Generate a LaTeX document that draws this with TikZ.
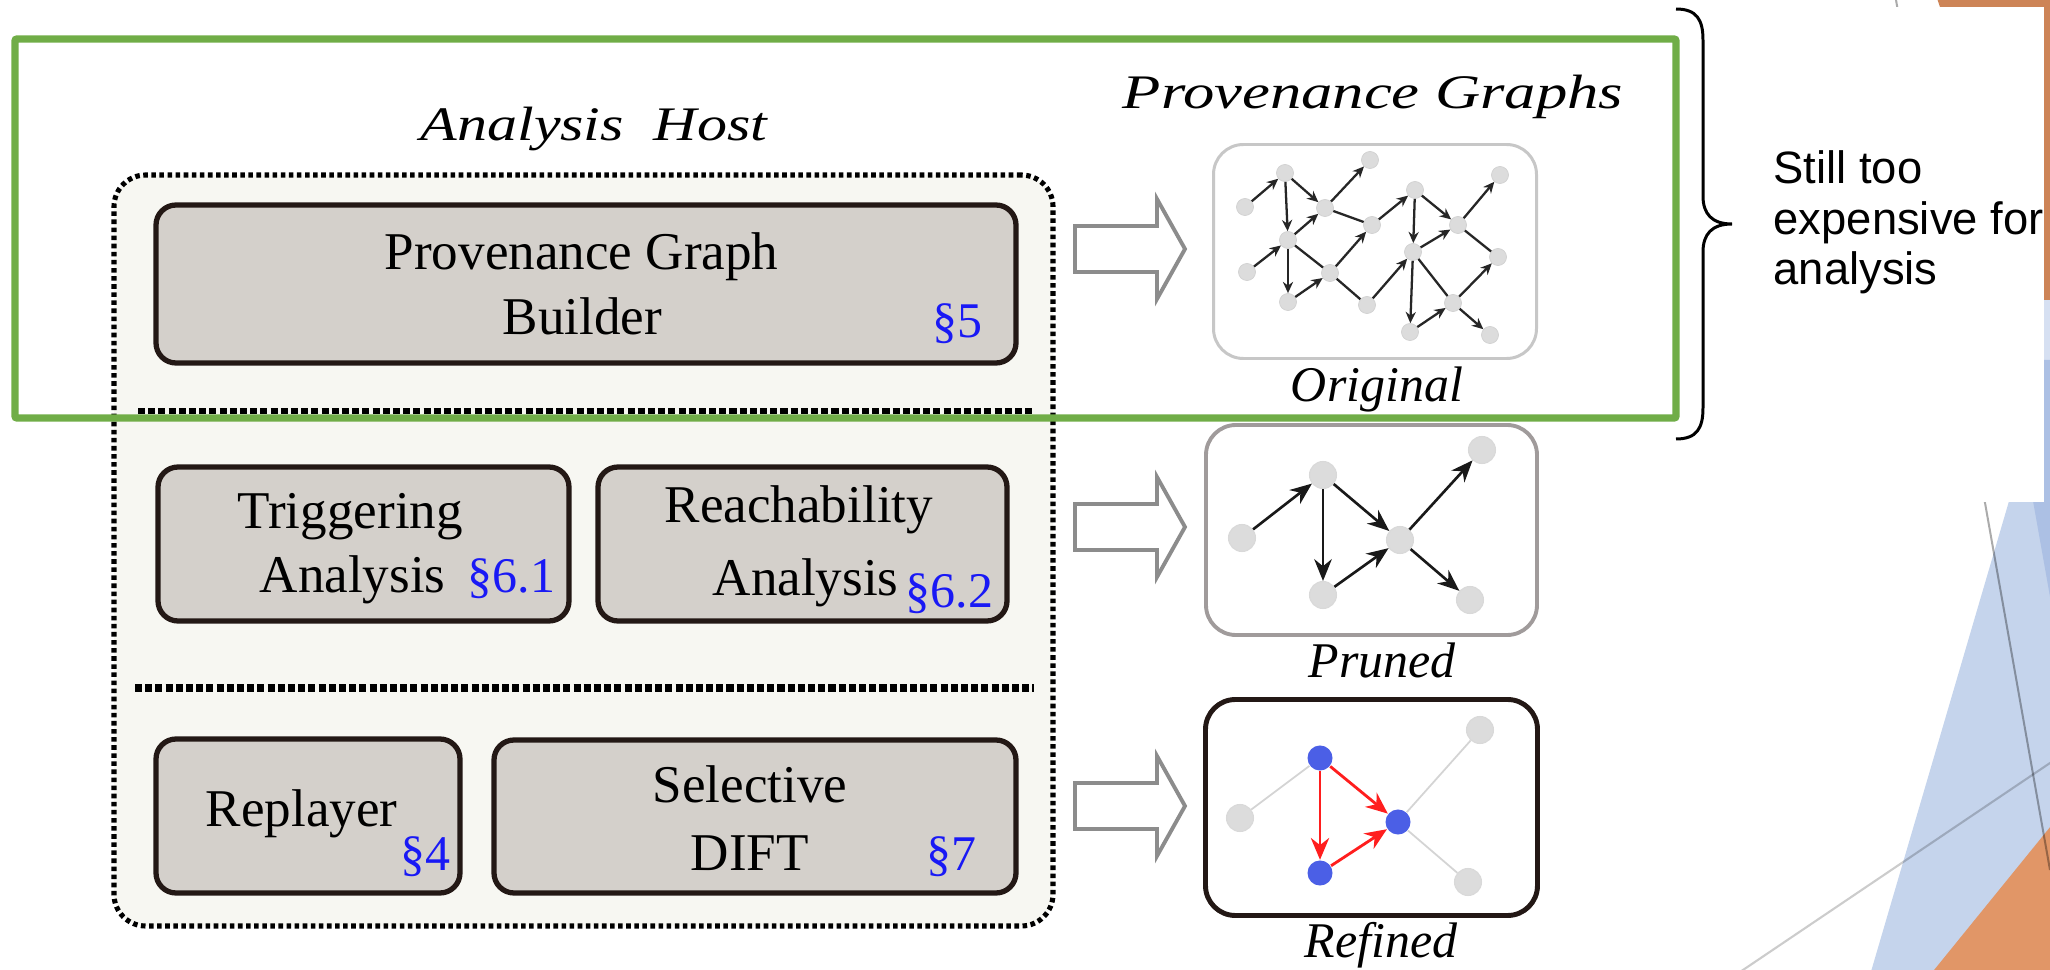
\documentclass[tikz,border=0pt]{standalone}
\usepackage{fontspec}
\setmainfont{Liberation Serif}
\newfontfamily\notefont{Liberation Sans}
\usetikzlibrary{arrows.meta,fit}

\definecolor{boxfill}{RGB}{212,208,203}
\definecolor{boxline}{RGB}{35,24,21}
\definecolor{hostfill}{RGB}{247,247,242}
\definecolor{secblue}{RGB}{25,25,245}
\definecolor{nodegrey}{RGB}{220,220,220}
\definecolor{hlblue}{RGB}{75,95,230}
\definecolor{hlred}{RGB}{255,30,30}
\definecolor{framegreen}{RGB}{112,173,71}
\definecolor{arrowgrey}{RGB}{140,140,140}
\definecolor{prunline}{RGB}{160,155,155}
\definecolor{slideorange}{RGB}{205,132,87}
\definecolor{slideorangeb}{RGB}{225,150,103}
\definecolor{slideblue}{RGB}{197,212,236}
\definecolor{slidebluedark}{RGB}{172,192,228}
\definecolor{slidebluelight}{RGB}{214,224,242}

\begin{document}
\begin{tikzpicture}[x=0.01cm,y=-0.01cm,
  gbox/.style={draw=boxline, fill=boxfill, line width=1.5pt, rounded corners=5.7pt, inner sep=0pt},
  gframe/.style={inner sep=0pt, rounded corners=8.5pt, fill=white},
  lbl/.style={inner sep=0pt, anchor=base west, font=\fontsize{15.1pt}{18pt}\selectfont},
  sec/.style={inner sep=0pt, anchor=base west, text=secblue, font=\fontsize{14.2pt}{17pt}\selectfont},
  gname/.style={inner sep=0pt, anchor=base, font=\fontsize{14.2pt}{17pt}\selectfont\itshape},
  ttl/.style={inner sep=0pt, anchor=base, font=\fontsize{13.7pt}{16pt}\selectfont\itshape},
  onode/.style={circle, fill=nodegrey, draw=black!18, line width=0.2pt, minimum size=0.17cm, inner sep=0pt},
  oedge/.style={line width=0.65pt, black!85, -{Stealth[length=3.2pt,width=2.9pt]}},
  oplain/.style={line width=0.65pt, black!85},
  pnode/.style={circle, fill=nodegrey, draw=black!15, line width=0.3pt, minimum size=0.27cm, inner sep=0pt},
  pedge/.style={line width=0.75pt, black!90, -{Stealth[length=6.2pt,width=5pt]}},
  bnode/.style={circle, fill=hlblue, minimum size=0.25cm, inner sep=0pt},
  redge/.style={line width=0.8pt, hlred, -{Stealth[length=6.2pt,width=5.2pt]}},
  rplain/.style={line width=0.5pt, black!17},
  blockarrow/.style={draw=arrowgrey, fill=white, line width=1.1pt, line join=miter},
]
\useasboundingbox (0,0) rectangle (2050,970);
\clip (0,0) rectangle (2050,970);

% slide decoration behind the picture
\fill[slideorange] (1936,-5) -- (2060,-5) -- (2060,288) -- (2040,312) -- cycle;
\fill[slidebluelight] (2040,300) rectangle (2060,380);
\fill[slideblue] (1870,975) -- (2068,300) -- (2070,975) -- cycle;
\fill[slidebluedark] (2008,360) -- (2060,360) -- (2060,653) -- cycle;
\fill[slideorangeb] (1930,975) -- (2055,821) -- (2055,975) -- cycle;
\draw[black, opacity=0.33, line width=0.57pt] (1896,0) -- (2050,870);
\draw[black, opacity=0.2, line width=0.6pt] (1740,972) -- (2053,761);
\fill[white] (1600,7) rectangle (2044,502);

% analysis host
\node[fit={(114,175) (1053,926)}, inner sep=0pt, draw, fill=hostfill, rounded corners=9pt,
      line width=1.45pt, dash pattern=on 1.3pt off 1.0pt] (host) {};
\draw[line width=1.5pt, dash pattern=on 2pt off 0.9pt] (138,411) -- (1034,411);
\draw[line width=2.3pt, dash pattern=on 2pt off 0.9pt] (135,688) -- (1034,688);

\node[ttl] (hosttitle) at (594,141) {\scalebox{1.245}[1]{Analysis\ \ Host}};
\node[ttl] (graphtitle) at (1373,109) {\scalebox{1.3}[1]{Provenance Graphs}};

% components
\node[gbox, fit={(156,205) (1016,363)}] (pgb) {};
\node[gbox, fit={(158,467) (569,621)}] (trig) {};
\node[gbox, fit={(598,467) (1007,621)}] (reach) {};
\node[gbox, fit={(156,739) (460,893)}] (repl) {};
\node[gbox, fit={(494,740) (1016,893)}] (dift) {};

\node[lbl] (pgbA) at (384,270) {Provenance Graph};
\node[lbl] (pgbB) at (502,335) {Builder};
\node[sec] (pgbS) at (932,338) {§5};

\node[lbl] (trigA) at (237,528) {Triggering};
\node[lbl] (trigB) at (259,593) {Analysis};
\node[sec] (trigS) at (467,593) {§6.1};

\node[lbl] (reachA) at (664,523) {Reachability};
\node[lbl] (reachB) at (712,595) {Analysis};
\node[sec] (reachS) at (905,607) {§6.2};

\node[lbl] (replA) at (205,827) {Replayer};
\node[sec] (replS) at (400,870) {§4};

\node[lbl] (diftA) at (652,802) {Selective};
\node[lbl] (diftB) at (690,870) {DIFT};
\node[sec] (diftS) at (926,870) {§7};

% hollow block arrows
\foreach \c in {249,527,806}{
  \draw[blockarrow] (1075,{\c-23}) -- (1157,{\c-23}) -- (1157,{\c-50}) -- (1185,\c)
    -- (1157,{\c+50}) -- (1157,{\c+23}) -- (1075,{\c+23}) -- cycle;
}

% graph frames
\node[gframe, fit={(1213.5,144.5) (1536.5,358.5)}, draw=black!22, line width=0.85pt] (gorig) {};
\node[gframe, fit={(1206,425) (1537,635)}, draw=prunline, line width=1.1pt] (gprun) {};
\node[gframe, fit={(1205.5,699.5) (1537.5,915.5)}, draw=boxline, line width=1.4pt] (gref) {};

\node[gname] (lorig) at (1377,402) {Original};
\node[gname] (lprun) at (1382,677) {Pruned};
\node[gname] (lref) at (1381,957) {Refined};

% original provenance graph
\node[onode] (oa) at (1245,207) {};
\node[onode] (ob) at (1285,173) {};
\node[onode] (oc) at (1370,160) {};
\node[onode] (od) at (1325,208) {};
\node[onode] (oe) at (1372,225) {};
\node[onode] (of) at (1288,240) {};
\node[onode] (og) at (1247,272) {};
\node[onode] (oh) at (1330,273) {};
\node[onode] (oi) at (1288,302) {};
\node[onode] (oj) at (1367,305) {};
\node[onode] (ok) at (1415,190) {};
\node[onode] (ol) at (1500,175) {};
\node[onode] (om) at (1458,225) {};
\node[onode] (on) at (1413,252) {};
\node[onode] (oo) at (1498,257) {};
\node[onode] (op) at (1453,303) {};
\node[onode] (oq) at (1410,332) {};
\node[onode] (or) at (1490,335) {};

\draw[oedge] (oa) -- (ob);
\draw[oedge] (ob) -- (of);
\draw[oedge] (ob) -- (od);
\draw[oedge] (od) -- (oc);
\draw[oplain] (od) -- (oe);
\draw[oedge] (of) -- (od);
\draw[oedge] (og) -- (of);
\draw[oplain] (of) -- (oh);
\draw[oedge] (of) -- (oi);
\draw[oedge] (oi) -- (oh);
\draw[oedge] (oh) -- (oe);
\draw[oplain] (oh) -- (oj);
\draw[oedge] (oj) -- (on);
\draw[oedge] (oe) -- (ok);
\draw[oedge] (ok) -- (on);
\draw[oedge] (ok) -- (om);
\draw[oedge] (om) -- (ol);
\draw[oedge] (on) -- (om);
\draw[oplain] (om) -- (oo);
\draw[oplain] (on) -- (op);
\draw[oedge] (op) -- (oo);
\draw[oedge] (on) -- (oq);
\draw[oedge] (oq) -- (op);
\draw[oedge] (op) -- (or);

% pruned graph
\node[pnode] (pa) at (1242,538) {};
\node[pnode] (pb) at (1323,475) {};
\node[pnode] (pc) at (1323,595) {};
\node[pnode] (pd) at (1400,540) {};
\node[pnode] (pe) at (1482,450) {};
\node[pnode] (pf) at (1470,600) {};
\draw[pedge] (pa) -- (pb);
\draw[pedge] (pb) -- (pc);
\draw[pedge] (pb) -- (pd);
\draw[pedge] (pc) -- (pd);
\draw[pedge] (pd) -- (pe);
\draw[pedge] (pd) -- (pf);

% refined graph
\node[pnode] (ra) at (1240,818) {};
\node[bnode] (rb) at (1320,758) {};
\node[bnode] (rc) at (1320,873) {};
\node[bnode] (rd) at (1398,822) {};
\node[pnode] (re) at (1480,730) {};
\node[pnode] (rf) at (1468,882) {};
\draw[rplain] (ra) -- (rb);
\draw[rplain] (rd) -- (re);
\draw[rplain] (rd) -- (rf);
\draw[redge] (rb) -- (rc);
\draw[redge] (rb) -- (rd);
\draw[redge] (rc) -- (rd);

% highlight frame and note
\draw[framegreen, line width=2.1pt, rounded corners=0.6pt] (15,39) rectangle (1676,418);
\draw[line width=0.85pt] (1676,9) .. controls (1697,9) and (1703,20) .. (1703,40)
  -- (1703,196) .. controls (1703,214) and (1712,224) .. (1732,224)
  .. controls (1712,224) and (1703,234) .. (1703,252)
  -- (1703,408) .. controls (1703,428) and (1697,439) .. (1676,439);
\node[inner sep=0pt, anchor=base west, align=left,
      font=\notefont\fontsize{12.9pt}{14.5pt}\selectfont] (note) at (1773,285)
  {Still too\\expensive for\\analysis};
\end{tikzpicture}
\end{document}
